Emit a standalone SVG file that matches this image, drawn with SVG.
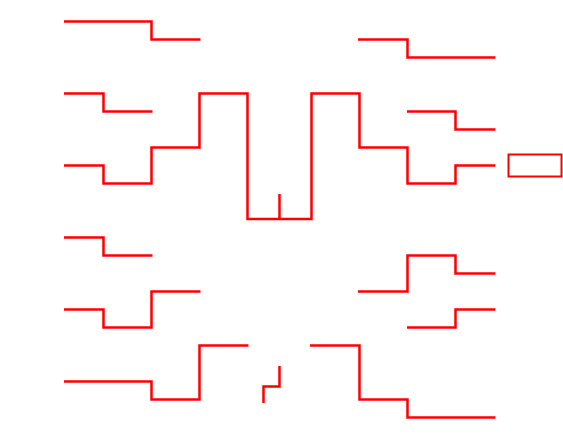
<svg xmlns="http://www.w3.org/2000/svg" width="563" height="438" viewBox="0 0 563 438">
<style>
.l{fill:none;stroke:#ff0000;stroke-width:2.5;stroke-linejoin:miter;stroke-linecap:butt}
</style>
<rect width="563" height="438" fill="#ffffff"/>
<g id="connectors">
<path class="l" d="M64 21.5H151.5V39.5H200.5"/>
<path class="l" d="M64 93.5H103.5V111.5H152.5"/>
<path class="l" d="M64 165.5H103.5V183.5H151.5V147.5H199.5V93.5H247.5V219H311.5V93.5H359.5V147.5H407.5V183.5H455.5V165.5H495.5"/>
<path class="l" d="M279.5 194V219"/>
<path class="l" d="M64 237.5H103.5V255.5H152.5"/>
<path class="l" d="M64 309.5H103.5V327.5H151.5V291.5H200.5"/>
<path class="l" d="M64 381.5H151.5V399.5H199.5V345.5H248.5"/>
<path class="l" d="M279.5 366V386.5H263.5V403"/>
<path class="l" d="M310 345.5H359.5V399.5H407.5V417.5H495.5"/>
<path class="l" d="M358 39.5H407.5V57.5H495.5"/>
<path class="l" d="M407 111.5H455.5V129.5H495.5"/>
<path class="l" d="M358 291.5H407.5V255.5H455.5V273.5H495.5"/>
<path class="l" d="M407 327.5H455.5V309.5H495.5"/>
</g>
<g id="box">
<rect x="508.5" y="154.5" width="53" height="22" fill="none" stroke="#ff0000" stroke-width="2"/>
</g>
</svg>
